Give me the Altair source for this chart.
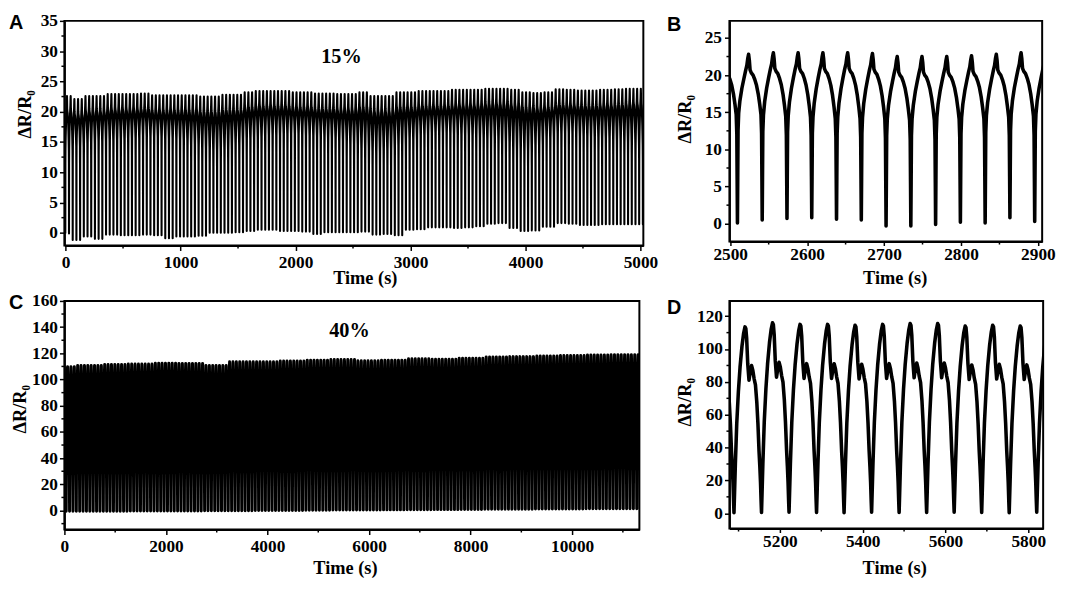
import altair as alt
import pandas as pd

# ---------------- 15 % strain (panels A and B) ----------------
# one cycle of the waveform (phase 0 = trough)
SHAPE15_PHASE = [0.0, 0.012, 0.025, 0.05, 0.10, 0.18, 0.26, 0.33, 0.38, 0.42, 0.45,
                 0.48, 0.51, 0.56, 0.63, 0.70, 0.77, 0.84, 0.90, 0.95, 0.975, 0.988]
SHAPE15_VALUE = [0.0, 6.0, 12.5, 14.8, 16.5, 18.2, 19.5, 20.6, 21.3, 22.3, 22.8,
                 22.0, 20.7, 20.3, 20.0, 19.4, 18.6, 17.4, 16.0, 14.6, 12.0, 6.0]
SHAPE15_ANCHORS = [0.0, 14.5, 20.0, 22.8]   # trough, cusp, plateau, peak of that cycle
PERIOD_15 = 32.2

# panel B, cycle by cycle
B_FIRST_TROUGH = 2509.4
B_TROUGHS = [0.1, 0.5, 0.7, 0.8, 0.6, 0.5, -0.3, -0.3, -0.1, 0.2, 0.1, 0.8, 0.3]
B_PEAKS = [22.8, 23.0, 23.0, 23.0, 23.0, 22.9, 22.5, 22.5, 22.5, 22.6, 22.8, 23.0]
B_CUSPS = [14.6, 14.3, 14.2, 14.0, 14.0, 14.0, 13.8, 13.8, 14.0, 14.0, 14.2, 14.4]

# panel A, envelope read every 100 s (0 ... 5000 s)
A_FIRST_TROUGH = 30.0
A_STEP = 100
A_TROUGH = [-0.1, -1.2, -0.6, -1.0, -0.3, -0.4, -0.4, -0.3, -0.4, -0.9,
            -0.6, -0.6, -0.5, 0.0, 0.0, 0.1, 0.3, 0.5, 0.5, 0.3,
            0.3, 0.2, -0.2, 0.1, 0.1, 0.1, 0.2, -0.3, -0.2, -0.4,
            0.5, 0.6, 0.9, 0.9, 0.8, 0.9, 1.1, 1.5, 1.6, 0.8,
            0.3, 0.4, 1.0, 1.6, 1.5, 1.3, 1.3, 1.4, 1.4, 1.4, 1.4]
A_PEAK = [22.6, 22.1, 22.6, 22.6, 22.9, 22.9, 22.9, 23.0, 22.7, 22.7,
          22.7, 22.7, 22.5, 22.5, 22.8, 22.8, 23.2, 23.4, 23.4, 23.4,
          23.2, 23.2, 23.0, 23.0, 22.9, 22.9, 23.2, 22.6, 22.6, 23.2,
          23.2, 23.4, 23.4, 23.4, 23.6, 23.6, 23.6, 23.8, 23.8, 23.6,
          23.2, 23.1, 23.2, 23.7, 23.6, 23.5, 23.5, 23.6, 23.7, 23.8, 23.8]
A_BAND = [15.0, 15.6, 16.2, 16.5, 16.6, 16.7, 17.0, 17.4, 17.2, 17.0,
          16.6, 16.0, 15.3, 14.8, 15.2, 16.0, 16.8, 17.2, 17.5, 17.7,
          17.7, 17.5, 17.3, 17.0, 16.6, 16.0, 15.4, 14.6, 15.0, 15.8,
          16.8, 17.5, 17.9, 17.9, 17.7, 17.5, 17.2, 16.8, 16.2, 15.3,
          14.8, 15.8, 16.9, 17.8, 17.9, 17.4, 17.2, 16.9, 16.6, 16.2, 15.8]
BAND_TO_CUSP = 1.5      # the solid band starts this far above the cusp of the arcs
PEAK_TO_PLATEAU = 2.8

# ---------------- 40 % strain (panels C and D) ----------------
SHAPE40_PHASE = [0.0, 0.02, 0.05, 0.10, 0.16, 0.22, 0.29, 0.35, 0.40, 0.43, 0.46,
                 0.50, 0.545, 0.59, 0.64, 0.685, 0.73, 0.78, 0.83, 0.87, 0.91,
                 0.94, 0.965, 0.985]
SHAPE40_VALUE = [0.0, 12, 30, 55, 75, 90, 103, 111, 115, 114, 108,
                 92, 82, 87, 91, 88, 83, 79, 68, 55, 38,
                 28, 18, 7]
SHAPE40_PEAK = 115.0
PERIOD_40 = 66.5

D_FIRST_TROUGH = 5089.0
D_TROUGHS = [0.4, 0.5, 0.6, 0.5, 0.4, 0.6, 0.5, 0.5, 0.6, 0.5, 0.4, 0.6]
D_PEAKS = [113.5, 116.0, 115.0, 115.0, 114.5, 115.0, 115.5, 115.5, 114.0, 114.5, 114.0]

# panel C, envelope read every 500 s (0 ... 11000 s)
C_FIRST_TROUGH = 35.0
C_STEP = 500
C_PEAK = [109.8, 110.8, 111.5, 111.8, 112.5, 112.3, 110.8, 113.5, 113.5, 114.2, 114.8, 115.3,
          114.3, 114.8, 115.8, 115.5, 116.3, 117.3, 117.5, 118.0, 118.3, 118.8, 119.0]
C_TROUGH = [-0.6, -0.5, -0.5, -0.4, -0.3, -0.3, -0.2, -0.1, 0.0, 0.1, 0.3, 0.4,
            0.4, 0.5, 0.6, 0.7, 0.8, 0.9, 1.0, 1.1, 1.2, 1.3, 1.4]


def clamp(lst, i):
    return lst[max(0, min(len(lst) - 1, i))]


def seg(lst, step, t):
    return clamp(lst, int(round(t / step)))


def map15(v, T, c, s, P):
    a0, a1, a2, a3 = SHAPE15_ANCHORS
    if v < a1:
        return T + (v - a0) / (a1 - a0) * (c - T)
    if v < a2:
        return c + (v - a1) / (a2 - a1) * (s - c)
    return s + (v - a2) / (a3 - a2) * (P - s)


def build15(first, kmin, kmax, params):
    ts, vs = [], []
    for k in range(kmin, kmax + 1):
        t0 = first + k * PERIOD_15
        T0, T1, P, c = params(k, t0)
        s = P - PEAK_TO_PLATEAU
        for ph, v in zip(SHAPE15_PHASE, SHAPE15_VALUE):
            T = T0 if ph < 0.5 else T1
            ts.append(t0 + ph * PERIOD_15)
            vs.append(map15(v, T, c, s, P))
    return pd.DataFrame({"t": ts, "v": vs})


def build40(first, kmin, kmax, params):
    ts, vs = [], []
    for k in range(kmin, kmax + 1):
        t0 = first + k * PERIOD_40
        T0, T1, P = params(k, t0)
        for ph, v in zip(SHAPE40_PHASE, SHAPE40_VALUE):
            T = T0 if ph < 0.5 else T1
            ts.append(t0 + ph * PERIOD_40)
            vs.append(T + v / SHAPE40_PEAK * (P - T))
    return pd.DataFrame({"t": ts, "v": vs})


def params_a(k, t0):
    mid = t0 + PERIOD_15 / 2
    return (seg(A_TROUGH, A_STEP, t0), seg(A_TROUGH, A_STEP, t0 + PERIOD_15),
            seg(A_PEAK, A_STEP, mid), seg(A_BAND, A_STEP, mid) - BAND_TO_CUSP)


def params_b(k, t0):
    return (clamp(B_TROUGHS, k), clamp(B_TROUGHS, k + 1), clamp(B_PEAKS, k), clamp(B_CUSPS, k))


def params_c(k, t0):
    mid = t0 + PERIOD_40 / 2
    return (seg(C_TROUGH, C_STEP, t0), seg(C_TROUGH, C_STEP, t0 + PERIOD_40), seg(C_PEAK, C_STEP, mid))


def params_d(k, t0):
    return (clamp(D_TROUGHS, k), clamp(D_TROUGHS, k + 1), clamp(D_PEAKS, k))


df_a = build15(A_FIRST_TROUGH, -1, 157, params_a)
df_b = build15(B_FIRST_TROUGH, -1, 13, params_b)
df_c = build40(C_FIRST_TROUGH, -1, 172, params_c)
df_d = build40(D_FIRST_TROUGH, -1, 12, params_d)

SERIF = "Liberation Serif"
SANS = "Liberation Sans"
COMMON = dict(grid=False, domainColor="black", domainWidth=2, tickColor="black", tickWidth=1.5,
              labelFont=SERIF, labelFontSize=17.5, labelFontWeight="bold", labelColor="black",
              labelFlush=False, labelOverlap=False, titleFont=SERIF, titleFontSize=18.5,
              titleFontWeight="bold", titleColor="black", format="d")


def panel(df, cfg):
    w, h = cfg["size"]
    xs = alt.Scale(domain=cfg["xdom"], nice=False, zero=False)
    ys = alt.Scale(domain=cfg["ydom"], nice=False, zero=False)
    xax = alt.Axis(values=cfg["xmaj"], title="Time (s)", tickSize=cfg["xtick"], labelPadding=cfg["xpad"],
                   titleX=cfg["xtitle"][0], titleY=cfg["xtitle"][1], titleAlign="center",
                   titleBaseline="alphabetic", titleAngle=0, **COMMON)
    yax = alt.Axis(values=cfg["ymaj"], title="ΔR/R₀", tickSize=5, labelPadding=cfg["ypad"],
                   titleX=cfg["ytitle"][0], titleY=cfg["ytitle"][1], titleAlign="center",
                   titleBaseline="middle", titleAngle=270, **COMMON)
    line = alt.Chart(df).mark_line(color="black", strokeWidth=cfg["stroke"], clip=True,
                                   strokeJoin="round").encode(
        x=alt.X("t:Q", scale=xs, axis=xax), y=alt.Y("v:Q", scale=ys, axis=yax))
    # minor ticks (same shared axes as the line layer)
    xminor = alt.Chart(pd.DataFrame({"t": cfg["xmin"]})).mark_rule(color="black", strokeWidth=1.5).encode(
        x=alt.X("t:Q", scale=xs, axis=xax), y=alt.value(h), y2=alt.value(h + 3))
    yminor = alt.Chart(pd.DataFrame({"v": cfg["ymin"]})).mark_rule(color="black", strokeWidth=1.5).encode(
        y=alt.Y("v:Q", scale=ys, axis=yax), x=alt.value(-3), x2=alt.value(0))
    layers = [line, xminor, yminor]
    lx, ly = cfg["letter_pos"]
    layers.append(alt.Chart(pd.DataFrame({"s": [cfg["letter"]]})).mark_text(
        text=cfg["letter"], font=SANS, fontSize=20, fontWeight="bold", align="left",
        baseline="alphabetic", color="black").encode(x=alt.value(lx), y=alt.value(ly)))
    if cfg.get("note"):
        nx, ny = cfg["note_pos"]
        layers.append(alt.Chart(pd.DataFrame({"s": [cfg["note"]]})).mark_text(
            text=cfg["note"], font=SERIF, fontSize=20.5, fontWeight="bold", align="center",
            baseline="middle", color="black").encode(x=alt.value(nx), y=alt.value(ny)))
    return alt.layer(*layers).properties(width=w, height=h)


cfg_a = dict(size=(585, 227), xdom=[-10, 5025], ydom=[-2.1, 35],
             xmaj=[0, 1000, 2000, 3000, 4000, 5000], xmin=[500, 1500, 2500, 3500, 4500],
             ymaj=[0, 5, 10, 15, 20, 25, 30, 35], ymin=[2.5, 7.5, 12.5, 17.5, 22.5, 27.5, 32.5],
             xtick=5, xpad=3, ypad=2, xtitle=(303.5, 38), ytitle=(-40, 94), stroke=2.1,
             letter="A", letter_pos=(-56, 8), note="15%", note_pos=(280, 37))
cfg_b = dict(size=(316, 223), xdom=[2499, 2905.5], ydom=[-2.4, 27.3],
             xmaj=[2500, 2600, 2700, 2800, 2900], xmin=[2550, 2650, 2750, 2850],
             ymaj=[0, 5, 10, 15, 20, 25], ymin=[2.5, 7.5, 12.5, 17.5, 22.5],
             xtick=4, xpad=0, ypad=3, xtitle=(167, 42), ytitle=(-45, 99), stroke=3.6,
             letter="B", letter_pos=(-63, 10))
cfg_c = dict(size=(581, 231), xdom=[0, 11325], ydom=[-14.5, 160],
             xmaj=[0, 2000, 4000, 6000, 8000, 10000], xmin=[1000, 3000, 5000, 7000, 9000, 11000],
             ymaj=[0, 20, 40, 60, 80, 100, 120, 140, 160],
             ymin=[-10, 10, 30, 50, 70, 90, 110, 130, 150],
             xtick=5, xpad=3, ypad=2, xtitle=(283.5, 44), ytitle=(-45, 109), stroke=3.0,
             letter="C", letter_pos=(-56, 8), note="40%", note_pos=(288, 30))
cfg_d = dict(size=(317, 230), xdom=[5078, 5836], ydom=[-9.3, 129.3],
             xmaj=[5200, 5400, 5600, 5800], xmin=[5100, 5300, 5500, 5700],
             ymaj=[0, 20, 40, 60, 80, 100, 120], ymin=[10, 30, 50, 70, 90, 110],
             xtick=4, xpad=0, ypad=2, xtitle=(166.5, 45), ytitle=(-45, 102), stroke=3.6,
             letter="D", letter_pos=(-63, 13))

chart = alt.concat(
    panel(df_a, cfg_a), panel(df_b, cfg_b), panel(df_c, cfg_c), panel(df_d, cfg_d),
    columns=2, spacing={"row": 56, "column": 87}, bounds="flush",
).properties(padding=0, background="white").configure_view(stroke="black", strokeWidth=2)

chart.save("out.html", embed_options={"renderer": "svg", "actions": False})
